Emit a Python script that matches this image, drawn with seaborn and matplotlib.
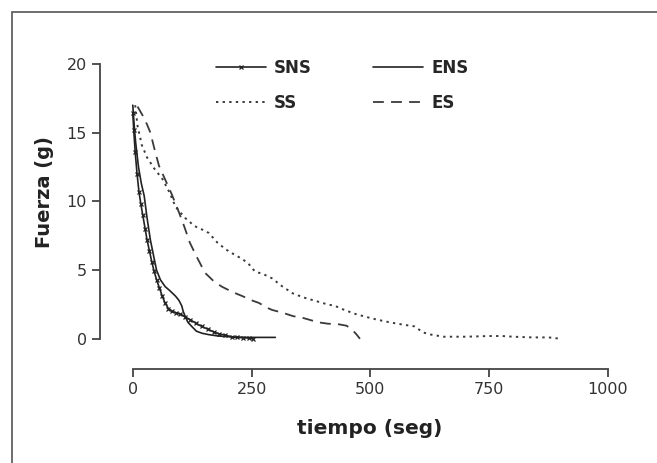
import numpy as np
import pandas as pd
import matplotlib
matplotlib.use("Agg")
import matplotlib.pyplot as plt
import seaborn as sns
from matplotlib.patches import Rectangle

# Data (tiempo in s, fuerza in g)
sns_t = [0, 2, 5, 9, 13, 17, 21, 26, 30, 35, 40, 45, 50, 56, 62, 68, 75, 82, 90,
         100, 110, 120, 132, 145, 158, 170, 182, 195, 208, 220, 232, 245, 252]
sns_f = [16.4, 15.2, 13.6, 12.0, 10.7, 9.8, 9.0, 8.0, 7.2, 6.4, 5.6, 4.9, 4.3, 3.7,
         3.1, 2.6, 2.2, 2.0, 1.9, 1.8, 1.6, 1.4, 1.15, 0.9, 0.7, 0.5, 0.35, 0.25,
         0.15, 0.1, 0.08, 0.05, 0.0]

ens_t = [0, 3, 6, 12, 18, 24, 30, 37, 44, 50, 58, 68, 78, 90, 97, 103, 106, 110,
         116, 124, 134, 146, 160, 180, 200, 213, 240, 270, 300]
ens_f = [17.0, 15.5, 14.3, 12.5, 11.3, 10.4, 8.8, 7.2, 6.0, 5.0, 4.3, 3.8, 3.5, 3.1,
         2.8, 2.4, 2.0, 1.65, 1.2, 0.9, 0.55, 0.4, 0.3, 0.2, 0.15, 0.12, 0.1, 0.1, 0.1]

ss_t = [5, 10, 19, 30, 45, 63, 78, 90, 110, 130, 143, 160, 178, 196, 215, 231, 245,
        257, 275, 293, 315, 337, 360, 390, 410, 425, 445, 469, 490, 513, 540, 565,
        593, 601, 612, 628, 654, 700, 750, 778, 800, 840, 875, 901]
ss_f = [17.0, 15.5, 14.1, 13.2, 12.4, 11.6, 10.6, 9.6, 8.8, 8.2, 8.0, 7.7, 7.0, 6.5,
        6.1, 5.8, 5.4, 4.9, 4.7, 4.4, 3.8, 3.3, 3.0, 2.7, 2.5, 2.4, 2.1, 1.8, 1.6,
        1.4, 1.2, 1.05, 0.9, 0.7, 0.45, 0.3, 0.15, 0.15, 0.2, 0.2, 0.15, 0.1, 0.1, 0.0]

es_t = [10, 20, 30, 37, 45, 55, 68, 81, 95, 108, 120, 134, 152, 170, 187, 210, 231,
        250, 266, 280, 293, 315, 337, 360, 390, 410, 434, 450, 460, 470, 478]
es_f = [16.9, 16.3, 15.6, 15.0, 13.9, 12.6, 11.6, 10.6, 9.4, 8.2, 7.0, 6.0, 4.8, 4.2,
        3.8, 3.4, 3.1, 2.8, 2.6, 2.3, 2.1, 1.9, 1.65, 1.5, 1.2, 1.1, 1.05, 0.95, 0.7,
        0.35, 0.0]

x_ticks = [0, 250, 500, 750, 1000]
y_ticks = [0, 5, 10, 15, 20]

sns.set_style("ticks")
plt.rcParams['font.family'] = ['DejaVu Sans']

fig = plt.figure(figsize=(6.57, 4.63), dpi=100)
ax = fig.add_axes([100 / 657, 1 - 369 / 463, 508 / 657, 305 / 463])

dark = "#222222"
sns.lineplot(x=sns_t, y=sns_f, ax=ax, color=dark, linewidth=1.2, marker="x",
             markersize=3.5, markeredgewidth=0.9, markeredgecolor=dark,
             estimator=None, sort=False, label="SNS")
sns.lineplot(x=ens_t, y=ens_f, ax=ax, color=dark, linewidth=1.2,
             estimator=None, sort=False, label="ENS")
sns.lineplot(x=ss_t, y=ss_f, ax=ax, color="#3a3a3a", linewidth=1.4,
             linestyle=(0, (1.2, 2.2)), estimator=None, sort=False, label="SS")
sns.lineplot(x=es_t, y=es_f, ax=ax, color="#3a3a3a", linewidth=1.3,
             linestyle=(0, (6, 4)), estimator=None, sort=False, label="ES")

ax.set_xlim(-69, 1000)
ax.set_ylim(-2.2, 20)
ax.spines['left'].set_bounds(0, 20)
ax.spines['bottom'].set_bounds(0, 1000)
for s in ['top', 'right']:
    ax.spines[s].set_visible(False)
for s in ['left', 'bottom']:
    ax.spines[s].set_color("#444444")
    ax.spines[s].set_linewidth(1.3)
ax.set_xticks(x_ticks)
ax.set_yticks(y_ticks)
ax.tick_params(axis='both', length=6, width=1.3, color="#444444",
               labelsize=11.5, labelcolor="#333333")

ax.set_xlabel("tiempo (seg)", fontsize=14.5, fontweight="bold", color="#222222")
ax.set_ylabel("Fuerza (g)", fontsize=14, fontweight="bold", color="#222222")
ax.xaxis.set_label_coords(0.531, -0.163)
ax.yaxis.set_label_coords(-0.09, 0.58)

h, l = ax.get_legend_handles_labels()
order = [0, 2, 1, 3]
ax.legend([h[i] for i in order], [l[i] for i in order], ncol=2, frameon=False,
          loc="upper left", bbox_to_anchor=(0.228, 1.017), borderaxespad=0, borderpad=0,
          handlelength=3.0, handletextpad=0.5, columnspacing=3.64, labelspacing=1.02,
          prop={'weight': 'bold', 'size': 12})

# outer frame of the figure panel (right and bottom run off the picture)
fig.patches.append(Rectangle((12 / 657, -0.1), 1.2, 1.074, transform=fig.transFigure,
                             fill=False, edgecolor="#555555", lw=1.2))

fig.savefig("out.png", dpi=100)
